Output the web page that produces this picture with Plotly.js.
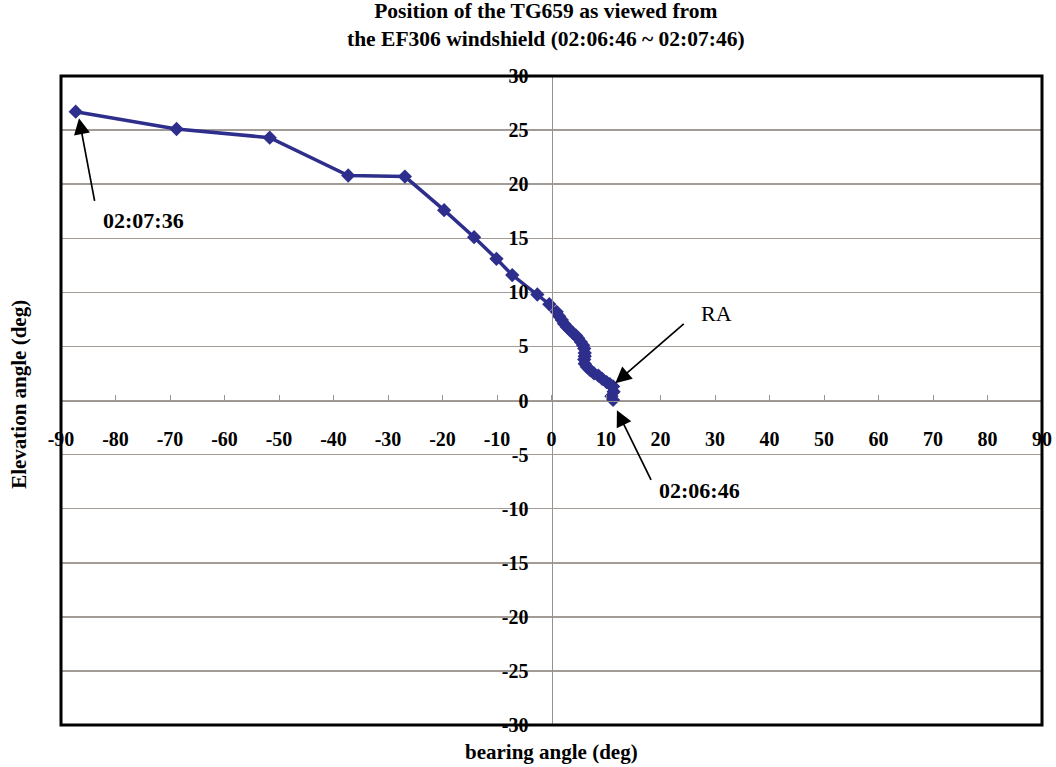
<!DOCTYPE html>
<html>
<head>
<meta charset="utf-8">
<script src="https://cdn.plot.ly/plotly-3.0.1.min.js"></script>
<style>html,body{margin:0;padding:0;background:#fff;}#chart{width:1056px;height:767px;}</style>
</head>
<body>
<div id="chart"></div>
<script>
// Data (time order, starting at 02:06:46)
var bearing = [11.3, 11.0, 11.4, 11.3, 10.7, 10.1, 9.3, 8.6, 7.8, 7.1, 6.5, 6.1, 6.0, 6.1, 6.1, 6.0, 5.8, 5.4, 4.9, 4.5, 4.0, 3.4, 2.8, 2.3, 1.9, 1.4, 0.95, -0.4, -2.6, -7.2, -10.1, -14.2, -19.7, -26.9, -37.3, -51.7, -68.8, -87.3];
var elevation = [0.05, 0.4, 0.8, 1.3, 1.5, 1.7, 2.0, 2.3, 2.5, 2.8, 3.1, 3.4, 3.8, 4.1, 4.4, 4.8, 5.1, 5.4, 5.75, 6.0, 6.2, 6.5, 6.8, 7.1, 7.44, 7.8, 8.2, 8.9, 9.8, 11.6, 13.1, 15.1, 17.6, 20.7, 20.8, 24.3, 25.1, 26.7];
var xTicks = [-90, -80, -70, -60, -50, -40, -30, -20, -10, 0, 10, 20, 30, 40, 50, 60, 70, 80, 90];
var yTicks = [-30, -25, -20, -15, -10, -5, 0, 5, 10, 15, 20, 25, 30];

var labelStart = {text: '02:07:36', head: [-86.7, 26.1], tail: [-83.4, 17.3], pos: [-82.7, 16.6]};
var labelRA = {text: 'RA', head: [11.7, 1.6], tail: [25.0, 7.4], pos: [30.2, 8.0]};
var labelEnd = {text: '02:06:46', head: [12.0, -0.9], tail: [19.0, -8.1], pos: [19.3, -8.3]};

var serif = 'Liberation Serif, Times New Roman, serif';
var navy = '#2e2e8c';

var trace = {
  x: bearing, y: elevation, type: 'scatter', mode: 'lines+markers',
  line: {color: navy, width: 3.5},
  marker: {symbol: 'diamond', size: 11, color: navy},
  hoverinfo: 'skip'
};

function arrowAnn(l) {
  return {x: l.head[0], y: l.head[1], ax: l.tail[0], ay: l.tail[1], axref: 'x', ayref: 'y',
    xref: 'x', yref: 'y', text: ' ', showarrow: true, arrowhead: 2, arrowsize: 1.9,
    arrowwidth: 1.7, arrowcolor: '#000', standoff: 0, startstandoff: 0};
}
function textAnn(l, anchor, bold, size) {
  return {x: l.pos[0], y: l.pos[1], xref: 'x', yref: 'y', text: l.text, showarrow: false,
    xanchor: anchor, yanchor: 'middle',
    font: {family: serif, size: size, color: '#000', weight: bold ? 'bold' : 'normal'}};
}

var layout = {
  width: 1056, height: 767,
  margin: {l: 61, r: 14, t: 76, b: 42},
  paper_bgcolor: '#ffffff', plot_bgcolor: '#ffffff',
  showlegend: false,
  font: {family: serif, size: 20, color: '#000', weight: 'bold'},
  xaxis: {
    range: [-90, 90], tickvals: xTicks, ticktext: xTicks.map(String),
    anchor: 'free', position: 0.5, showgrid: false, zeroline: false,
    showline: true, linecolor: '#9a928c', linewidth: 1.5,
    ticks: 'inside', ticklen: 6, tickwidth: 1, tickcolor: '#9a928c',
    ticklabelstandoff: 20,
    tickfont: {family: serif, size: 20, color: '#000', weight: 'bold'},
    fixedrange: true
  },
  yaxis: {
    range: [-30, 30], tickvals: yTicks, ticktext: yTicks.map(String),
    anchor: 'free', position: 0.5, showgrid: true, gridcolor: '#a39b95', gridwidth: 1.5,
    zeroline: false, showline: true, linecolor: '#9a928c', linewidth: 1.5,
    ticks: '', ticklabelstandoff: 19,
    tickfont: {family: serif, size: 20, color: '#000', weight: 'bold'},
    fixedrange: true
  },
  shapes: [
    {type: 'rect', xref: 'paper', yref: 'paper', x0: 0, x1: 1, y0: 0, y1: 1,
     line: {color: '#000', width: 3}, fillcolor: 'rgba(0,0,0,0)'}
  ],
  annotations: [
    {text: 'Position of the TG659 as viewed from<br>the EF306 windshield (02:06:46 ~ 02:07:46)',
     xref: 'paper', yref: 'paper', x: 0.494, y: 1.078, xanchor: 'center', yanchor: 'middle',
     align: 'center', showarrow: false,
     font: {family: serif, size: 21.5, color: '#000', weight: 'bold'}},
    arrowAnn(labelStart), textAnn(labelStart, 'left', true, 22),
    arrowAnn(labelRA), textAnn(labelRA, 'center', false, 22),
    arrowAnn(labelEnd), textAnn(labelEnd, 'left', true, 22),
    {text: 'Elevation angle (deg)', xref: 'paper', yref: 'paper', x: -0.043, y: 0.51,
     textangle: -90, showarrow: false, xanchor: 'center', yanchor: 'middle',
     font: {family: serif, size: 21, color: '#000', weight: 'bold'}},
    {text: 'bearing angle (deg)', xref: 'paper', yref: 'paper', x: 0.5, y: -0.042,
     showarrow: false, xanchor: 'center', yanchor: 'middle',
     font: {family: serif, size: 21, color: '#000', weight: 'bold'}}
  ]
};

Plotly.newPlot('chart', [trace], layout, {displayModeBar: false, staticPlot: true});
</script>
</body>
</html>
